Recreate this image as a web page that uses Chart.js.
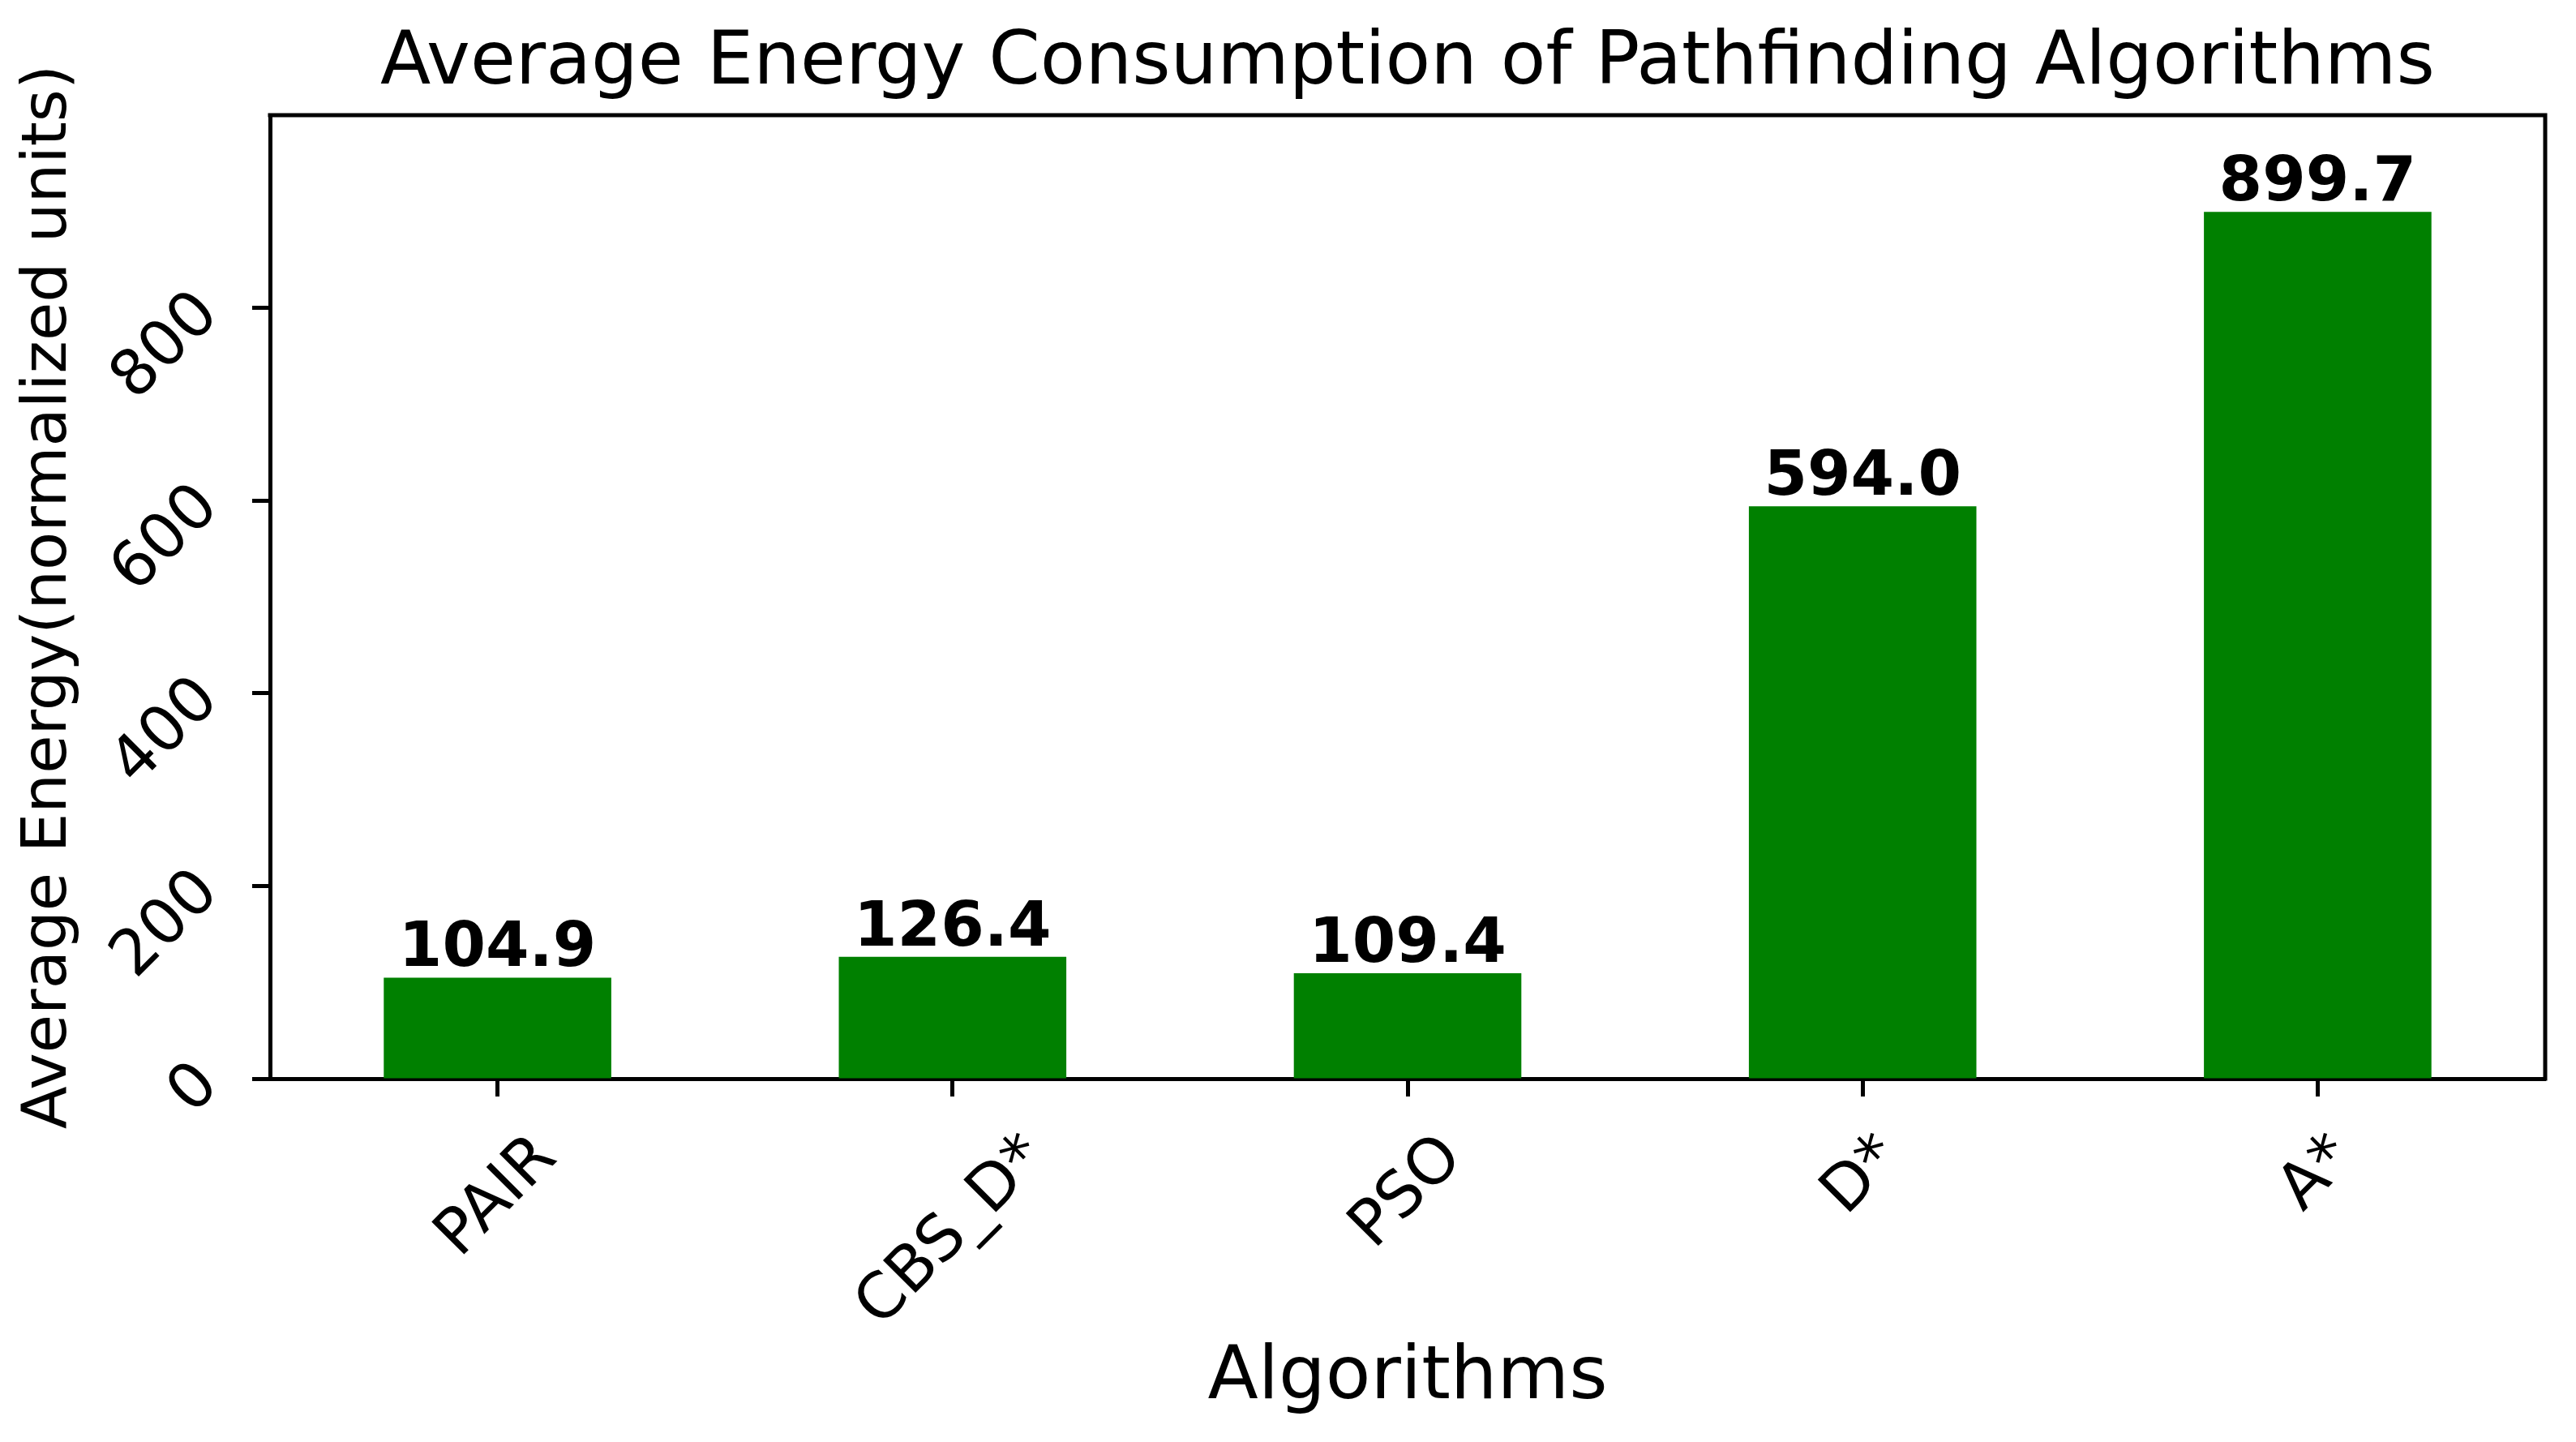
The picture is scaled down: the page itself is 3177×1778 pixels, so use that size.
<!DOCTYPE html>
<html lang="en">
<head>
  <meta charset="UTF-8">
  <title>Average Energy Consumption of Pathfinding Algorithms</title>
  <script src="https://cdn.jsdelivr.net/npm/chart.js"></script>
  <style>
    html, body {
      margin: 0;
      padding: 0;
      background: #fff;
    }
    canvas {
      display: block;
    }
  </style>
</head>
<body>

  <canvas id="graficoEnergia" width="3177" height="1778"></canvas>

  <script>
    const algorithms = ["PAIR", "CBS_D*", "PSO", "D*", "A*"];
    const avgEnergy = [104.9, 126.4, 109.4, 594.0, 899.7];
    const yTicks = [0, 200, 400, 600, 800];
    const chartTitle = "Average Energy Consumption of Pathfinding Algorithms";
    const xTitle = "Algorithms";
    const yTitle = "Average Energy(normalized units)";

    const FONT = "'DejaVu Sans', sans-serif";
    const TICK_SIZE = 78;

    // title, top/right spines, value labels and centred rotated x labels (matplotlib style)
    const extras = {
      id: "extras",
      afterDraw(chart) {
        const ctx = chart.ctx;
        const a = chart.chartArea;
        ctx.save();

        ctx.strokeStyle = "#000";
        ctx.lineWidth = 5;
        ctx.beginPath();
        ctx.moveTo(a.left - 2.5, a.top);
        ctx.lineTo(a.right, a.top);
        ctx.lineTo(a.right, a.bottom + 2.5);
        ctx.stroke();

        ctx.fillStyle = "#000";
        ctx.textAlign = "center";
        ctx.textBaseline = "alphabetic";
        ctx.font = "91px " + FONT;
        ctx.fillText(chartTitle, (a.left + a.right) / 2, 103);

        ctx.font = "bold 77px " + FONT;
        chart.getDatasetMeta(0).data.forEach((bar, i) => {
          ctx.fillText(avgEnergy[i].toFixed(1), bar.x, bar.y - 14);
        });

        const xs = chart.scales.x;
        const F = TICK_SIZE, asc = 0.76 * F, desc = 0.24 * F, k = Math.SQRT1_2;
        const top = a.bottom + 58;
        ctx.font = F + "px " + FONT;
        ctx.textAlign = "left";
        algorithms.forEach((lab, i) => {
          const w = ctx.measureText(lab).width;
          const ox = xs.getPixelForTick(i) - k * (w + desc - asc) / 2;
          const oy = top + k * (w + asc);
          ctx.save();
          ctx.translate(ox, oy);
          ctx.rotate(-Math.PI / 4);
          ctx.fillText(lab, 0, 0);
          ctx.restore();
        });

        ctx.restore();
      }
    };

    const ctx = document.getElementById("graficoEnergia").getContext("2d");
    new Chart(ctx, {
      type: "bar",
      data: {
        labels: algorithms,
        datasets: [{
          label: "Average Energy",
          data: avgEnergy,
          backgroundColor: "#008000",
          borderWidth: 0,
          barPercentage: 0.5,
          categoryPercentage: 1.0
        }]
      },
      options: {
        responsive: false,
        animation: false,
        layout: {
          padding: { top: 142, right: 38, bottom: 0, left: 0 }
        },
        plugins: {
          legend: { display: false },
          title: { display: false },
          tooltip: { enabled: false }
        },
        scales: {
          x: {
            grid: {
              offset: false,
              drawOnChartArea: false,
              drawTicks: true,
              tickLength: 22,
              tickWidth: 5,
              tickColor: "#000"
            },
            border: { display: true, color: "#000", width: 5 },
            ticks: {
              color: "rgba(0,0,0,0)",
              autoSkip: false,
              maxRotation: 0,
              font: { family: FONT, size: TICK_SIZE }
            },
            title: {
              display: true,
              text: xTitle,
              color: "#000",
              font: { family: FONT, size: 91, lineHeight: 1 },
              padding: { top: 0, bottom: 32 }
            },
            afterFit: s => { s.height = 448; }
          },
          y: {
            min: 0,
            max: 1000,
            afterBuildTicks: s => { s.ticks = yTicks.map(v => ({ value: v })); },
            grid: {
              drawOnChartArea: false,
              drawTicks: true,
              tickLength: 22,
              tickWidth: 5,
              tickColor: "#000"
            },
            border: { display: true, color: "#000", width: 5 },
            ticks: {
              color: "#000",
              minRotation: 45,
              maxRotation: 45,
              padding: 53,
              labelOffset: -4,
              font: { family: FONT, size: TICK_SIZE }
            },
            title: {
              display: true,
              text: yTitle,
              color: "#000",
              font: { family: FONT, size: 77, lineHeight: 1 },
              padding: { top: 22, bottom: 0 }
            },
            afterFit: s => { s.width = 333; }
          }
        }
      },
      plugins: [extras]
    });
  </script>
</body>
</html>
